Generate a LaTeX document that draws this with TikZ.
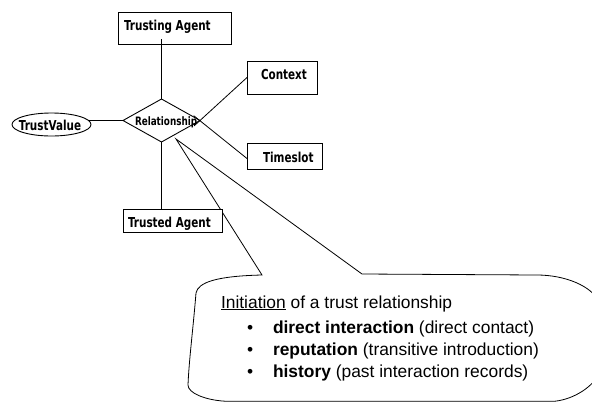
\documentclass[tikz,border=0pt]{standalone}
\usepackage{fontspec}
\setmainfont{Liberation Sans}
\newfontfamily\labfont[FakeStretch=0.76]{DejaVu Sans Bold}
\usetikzlibrary{shapes.geometric,calc}
\begin{document}
\begin{tikzpicture}[x=1pt,y=-1pt,
  every node/.style={inner sep=0pt, outer sep=0pt},
  line/.style={draw=black, line width=0.8pt},
  ebox/.style={rectangle, draw=black, line width=0.9pt, fill=white},
  lab/.style={anchor=base west, font=\labfont\fontsize{13.7}{16}\selectfont},
  ctext/.style={anchor=base west, font=\fontsize{17.4}{21}\selectfont}]
\useasboundingbox (0,0) rectangle (592,402);
% callout (drawn first, clipped at picture edge)
\coordinate (apex) at (176,139);
\coordinate (tl) at (262,275);
\coordinate (tr) at (362,274);
\begin{scope}
\clip (0,0) rectangle (592,402);
\draw[line, fill=white] (apex) -- (tl) .. controls (218,276) and (198,282) .. (196,293)
  .. controls (193,330) and (189,360) .. (188,385)
  .. controls (188,393) and (205,400) .. (225,401.2) -- (555,401.2)
  .. controls (575,399) and (593,386) .. (599,374) -- (599,302)
  .. controls (592,286) and (565,275) .. (537,275) -- (tr) -- cycle;
\end{scope}
% shapes
\node[diamond, draw=black, line width=0.9pt, minimum width=77pt, minimum height=43pt] (rel) at (161.5,120.5) {};
\node[ebox, minimum width=113pt, minimum height=32pt] (ta) at (174.5,28) {};
\node[ebox, minimum width=70pt, minimum height=33pt] (cx) at (282,77.5) {};
\node[ebox, minimum width=75pt, minimum height=26pt] (ts) at (284.5,156.5) {};
\node[ebox, minimum width=99pt, minimum height=23pt] (tda) at (172.5,220.5) {};
\node[ellipse, draw=black, line width=0.9pt, minimum width=79pt, minimum height=23pt] (tv) at (51.5,124.5) {};
% connectors
\draw[line] (rel.north) -- ([yshift=5pt]rel.north |- ta.south);
\draw[line] (rel.south) -- (rel.south |- tda.north);
\draw[line] (rel.west) -- ([xshift=-2pt]rel.west -| tv.east);
\draw[line] ($(rel.east)!-8pt!(cx.west)$) -- (cx.west);
\draw[line] ($(rel.east)!-8pt!(ts.west)$) -- ([yshift=-2pt]ts.west);
% labels
\node[lab] (tat) at (124,30) {Trusting Agent};
\node[lab] (cxt) at (261,79) {Context};
\node[lab] (tst) at (263,162) {Timeslot};
\node[lab] (tdat) at (128,227) {Trusted Agent};
\node[lab, anchor=center] (tvt) at (50,125.5) {TrustValue};
\node[lab, font=\labfont\fontsize{11.6}{14}\selectfont] (relt) at (135,125) {Relationship};
% callout text
\node[ctext] (c0) at (221,308) {\underline{Initiation} of a trust relationship};
\node[ctext] (b1) at (247,333) {\textbullet};
\node[ctext] (c1) at (273,333) {\textbf{direct interaction} (direct contact)};
\node[ctext] (b2) at (247,355) {\textbullet};
\node[ctext] (c2) at (273,355) {\textbf{reputation} (transitive introduction)};
\node[ctext] (b3) at (247,377) {\textbullet};
\node[ctext] (c3) at (273,377) {\textbf{history} (past interaction records)};
\end{tikzpicture}
\end{document}
